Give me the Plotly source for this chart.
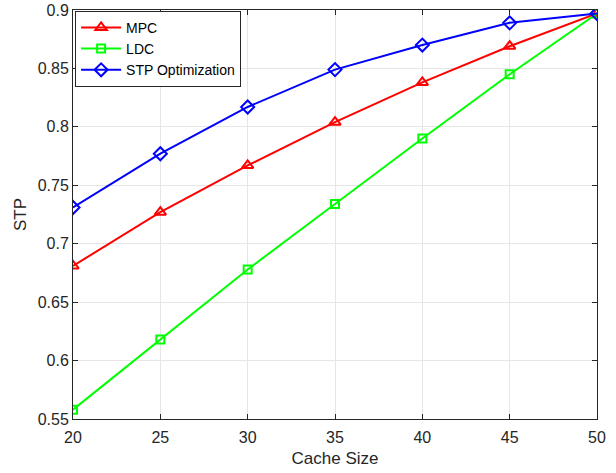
import plotly.graph_objects as go

cache_size = [20, 25, 30, 35, 40, 45, 50]
mpc = [0.681, 0.727, 0.767, 0.804, 0.838, 0.869, 0.897]
ldc = [0.558, 0.618, 0.678, 0.734, 0.790, 0.845, 0.897]
stp = [0.731, 0.777, 0.817, 0.849, 0.870, 0.889, 0.897]

fig = go.Figure()
fig.add_trace(go.Scatter(x=cache_size, y=mpc, name="MPC", mode="lines+markers",
                         line=dict(color="#ff0000", width=2),
                         marker=dict(symbol="triangle-up-open", size=10, color="#ff0000", line=dict(width=2))))
fig.add_trace(go.Scatter(x=cache_size, y=ldc, name="LDC", mode="lines+markers",
                         line=dict(color="#00ff00", width=2),
                         marker=dict(symbol="square-open", size=8, color="#00ff00", line=dict(width=2))))
fig.add_trace(go.Scatter(x=cache_size, y=stp, name="STP Optimization", mode="lines+markers",
                         line=dict(color="#0000ff", width=2),
                         marker=dict(symbol="diamond-open", size=10, color="#0000ff", line=dict(width=2))))

axis_common = dict(showline=True, linecolor="#262626", linewidth=1, mirror="ticks",
                   ticks="inside", ticklen=5, tickcolor="#262626", automargin=False,
                   showgrid=True, gridcolor="#e6e6e6", gridwidth=1, zeroline=False,
                   tickfont=dict(family="Liberation Sans, Arial", size=16, color="#262626"))

fig.update_layout(
    width=616, height=473,
    margin=dict(l=73, r=19, t=10, b=54, autoexpand=False),
    plot_bgcolor="white", paper_bgcolor="white",
    font=dict(family="Liberation Sans, Arial", size=16, color="#262626"),
    xaxis=dict(range=[20, 50], tickvals=[20, 25, 30, 35, 40, 45, 50], ticklabelstandoff=4,
               title=dict(text="Cache Size", font=dict(size=17), standoff=6), **axis_common),
    yaxis=dict(range=[0.55, 0.9], tickvals=[0.55, 0.6, 0.65, 0.7, 0.75, 0.8, 0.85, 0.9],
               ticktext=["0.55", "0.6", "0.65", "0.7", "0.75", "0.8", "0.85", "0.9"],
               title=dict(text="STP", font=dict(size=17), standoff=6), **axis_common),
    legend=dict(x=0.004, y=0.998, xanchor="left", yanchor="top",
                bgcolor="white", bordercolor="#262626", borderwidth=1,
                font=dict(size=14, color="#000000"), tracegroupgap=0,
                itemwidth=40),
    showlegend=True,
)

fig.write_html("out.html", config={"displayModeBar": False},
               post_script="document.body.style.margin='0';document.body.style.overflow='hidden';")
